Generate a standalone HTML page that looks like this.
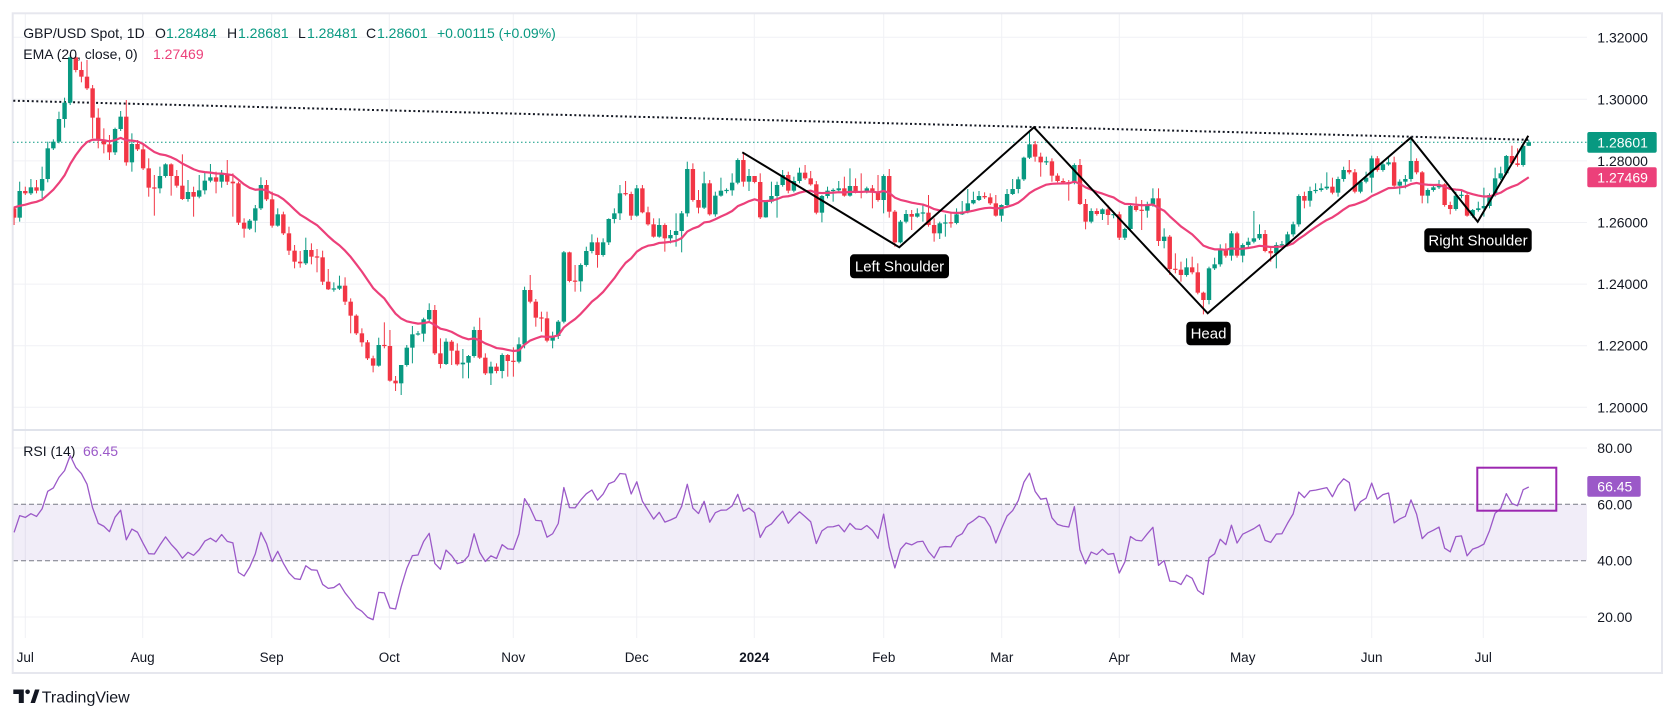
<!DOCTYPE html>
<html><head><meta charset="utf-8">
<style>
html,body{margin:0;padding:0;background:#fff;}
body{width:1675px;height:718px;overflow:hidden;position:relative;font-family:"Liberation Sans",Arial,sans-serif;}
svg{position:absolute;left:0;top:0;}
text{font-family:"Liberation Sans",Arial,sans-serif;}
</style></head><body>
<svg id="chart" width="1675" height="718" xmlns="http://www.w3.org/2000/svg">
<defs>
<clipPath id="pc"><rect x="13.5" y="14" width="1573.5" height="415.5"/></clipPath>
<clipPath id="rc"><rect x="13.5" y="431" width="1573.5" height="207"/></clipPath>
</defs>
<rect x="0" y="0" width="1675" height="718" fill="#fff"/>
<!-- vertical grid -->
<g stroke="#F0F1F5" stroke-width="1">
<line x1="25.3" x2="25.3" y1="14" y2="638"/>
<line x1="142.7" x2="142.7" y1="14" y2="638"/>
<line x1="271.7" x2="271.7" y1="14" y2="638"/>
<line x1="389.3" x2="389.3" y1="14" y2="638"/>
<line x1="513.3" x2="513.3" y1="14" y2="638"/>
<line x1="636.7" x2="636.7" y1="14" y2="638"/>
<line x1="754.3" x2="754.3" y1="14" y2="638"/>
<line x1="883.7" x2="883.7" y1="14" y2="638"/>
<line x1="1001.7" x2="1001.7" y1="14" y2="638"/>
<line x1="1119.3" x2="1119.3" y1="14" y2="638"/>
<line x1="1242.7" x2="1242.7" y1="14" y2="638"/>
<line x1="1371.7" x2="1371.7" y1="14" y2="638"/>
<line x1="1483.3" x2="1483.3" y1="14" y2="638"/>
</g>
<!-- horizontal grid price -->
<g stroke="#F0F1F5" stroke-width="1">
<line x1="13" x2="1587" y1="37.3" y2="37.3"/>
<line x1="13" x2="1587" y1="99.3" y2="99.3"/>
<line x1="13" x2="1587" y1="160.9" y2="160.9"/>
<line x1="13" x2="1587" y1="222.5" y2="222.5"/>
<line x1="13" x2="1587" y1="284.1" y2="284.1"/>
<line x1="13" x2="1587" y1="345.7" y2="345.7"/>
<line x1="13" x2="1587" y1="407.3" y2="407.3"/>
<line x1="13" x2="1587" y1="448" y2="448"/>
<line x1="13" x2="1587" y1="617" y2="617"/>
</g>
<!-- RSI band -->
<rect x="13" y="504.3" width="1574" height="56.4" fill="#7E57C2" fill-opacity="0.11"/>
<line x1="13" x2="1587" y1="504.3" y2="504.3" stroke="#787B86" stroke-width="1" stroke-dasharray="5,3"/>
<line x1="13" x2="1587" y1="560.7" y2="560.7" stroke="#787B86" stroke-width="1" stroke-dasharray="5,3"/>
<!-- frame -->
<rect x="12.7" y="13.3" width="1649.3" height="659.7" fill="none" stroke="#E6E7EE" stroke-width="2"/>
<line x1="13" x2="1662" y1="430" y2="430" stroke="#E0E3EB" stroke-width="2"/>

<!-- last price dotted line -->
<line x1="13" x2="1587" y1="142.2" y2="142.2" stroke="#089981" stroke-width="1" stroke-dasharray="1.5,2.5"/>
<!-- black dotted trendline -->
<line x1="13.3" y1="100.7" x2="1530" y2="139.8" stroke="#131722" stroke-width="2" stroke-dasharray="2,2.6"/>

<g id="cand" clip-path="url(#pc)"></g>

<!-- header texts -->
<g font-size="14">
<text x="23.3" y="37.8" fill="#131722">GBP/USD Spot, 1D</text>
<text x="155" y="37.8" fill="#131722">O</text><text x="166" y="37.8" fill="#089981">1.28484</text>
<text x="227" y="37.8" fill="#131722">H</text><text x="238" y="37.8" fill="#089981">1.28681</text>
<text x="298" y="37.8" fill="#131722">L</text><text x="307" y="37.8" fill="#089981">1.28481</text>
<text x="366" y="37.8" fill="#131722">C</text><text x="377" y="37.8" fill="#089981">1.28601</text>
<text x="437" y="37.8" fill="#089981">+0.00115 (+0.09%)</text>
<text x="23.3" y="59" fill="#131722">EMA (20, close, 0)</text>
<text x="153" y="59" fill="#EC407A">1.27469</text>
<text x="23.3" y="456" fill="#131722">RSI (14)</text>
<text x="83" y="456" fill="#9B59C8">66.45</text>
</g>

<!-- pattern zigzag -->
<polyline points="742.3,152.3 899.3,247.3 1034,127.3 1207.7,313.3 1410.7,137.7 1477.7,221.7 1528.3,135.7" fill="none" stroke="#000" stroke-width="2" stroke-linejoin="miter"/>

<!-- labels -->
<rect x="850" y="254.3" width="99" height="24" rx="4" fill="#000"/>
<text x="899.5" y="271.3" font-size="15" fill="#fff" text-anchor="middle">Left Shoulder</text>
<rect x="1186.3" y="321.7" width="44.4" height="23.6" rx="4" fill="#000"/>
<text x="1208.5" y="338.6" font-size="15" fill="#fff" text-anchor="middle">Head</text>
<rect x="1424.3" y="228.3" width="107.4" height="24" rx="4" fill="#000"/>
<text x="1478" y="245.3" font-size="15" fill="#fff" text-anchor="middle">Right Shoulder</text>

<g id="rsi" clip-path="url(#rc)"></g>
<rect x="1477.3" y="467.7" width="79" height="43" fill="none" stroke="#9C27B0" stroke-width="2"/>

<!-- price axis -->
<g font-size="14" fill="#131722">
<text x="1597.3" y="42.3">1.32000</text>
<text x="1597.3" y="104.3">1.30000</text>
<text x="1597.3" y="165.9">1.28000</text>
<text x="1597.3" y="227.5">1.26000</text>
<text x="1597.3" y="289.1">1.24000</text>
<text x="1597.3" y="350.7">1.22000</text>
<text x="1597.3" y="412.3">1.20000</text>
<text x="1597.3" y="453">80.00</text>
<text x="1597.3" y="509.3">60.00</text>
<text x="1597.3" y="565.7">40.00</text>
<text x="1597.3" y="622">20.00</text>
</g>
<rect x="1587.3" y="132" width="69.4" height="20.7" rx="2" fill="#089981"/>
<text x="1597.3" y="147.3" font-size="14" fill="#fff">1.28601</text>
<rect x="1587.3" y="167.3" width="69.4" height="20" rx="2" fill="#EC407A"/>
<text x="1597.3" y="182.3" font-size="14" fill="#fff">1.27469</text>
<rect x="1587.3" y="476" width="53.4" height="20.7" rx="2" fill="#9B59C8"/>
<text x="1597.3" y="491.3" font-size="14" fill="#fff">66.45</text>

<!-- time axis -->
<g font-size="13.5" fill="#131722" text-anchor="middle">
<text x="25.3" y="662">Jul</text>
<text x="142.7" y="662">Aug</text>
<text x="271.7" y="662">Sep</text>
<text x="389.3" y="662">Oct</text>
<text x="513.3" y="662">Nov</text>
<text x="636.7" y="662">Dec</text>
<text x="754.3" y="662" font-weight="bold">2024</text>
<text x="883.7" y="662">Feb</text>
<text x="1001.7" y="662">Mar</text>
<text x="1119.3" y="662">Apr</text>
<text x="1242.7" y="662">May</text>
<text x="1371.7" y="662">Jun</text>
<text x="1483.3" y="662">Jul</text>
</g>

<!-- TradingView logo -->
<g fill="#131722">
<path d="M13.3,689.5 H23.8 V703 H18.8 V694 H13.3 Z"/>
<circle cx="27.6" cy="691.8" r="2.3"/>
<path d="M30.5,703 L35,689.5 H39.5 L35,703 Z"/>
</g>
<text x="41.7" y="702.3" font-size="16" fill="#131722">TradingView</text>
</svg>
<script>
(function(){
var D=[[518,485,540],[438,410,530],[445,425,450],[427,402,450],[437,405,445],[402,365,460],[310,290,412],[290,283,315],[222,200,295],[173,158,248],[37,30,180],[75,33,82],[95,50,112],[130,45,135],[218,120,280],[285,190,310],[298,250,325],[322,270,345],[252,248,330],[215,198,258],[352,165,362],[297,265,380],[313,285,318],[370,300,375],[428,340,455],[430,390,512],[393,365,445],[358,355,398],[393,355,452],[422,375,428],[462,328,465],[441,405,470],[455,425,515],[436,390,460],[407,380,448],[397,357,412],[410,380,445],[387,375,428],[410,345,420],[415,385,515],[533,410,540],[551,520,578],[527,522,555],[490,480,562],[420,397,495],[463,405,468],[542,440,548],[508,490,545],[565,500,570],[617,545,630],[650,600,670],[655,618,668],[615,578,660],[635,595,658],[637,612,682],[710,617,720],[733,672,735],[731,712,740],[722,692,735],[770,697,780],[812,760,865],[865,808,870],[892,850,905],[940,885,945],[962,932,982],[900,878,965],[903,832,910],[1007,855,1010],[1015,993,1038],[960,960,1050],[908,900,965],[868,843,955],[866,858,872],[823,818,890],[795,775,830],[925,780,930],[957,880,970],[890,880,960],[917,885,960],[958,895,962],[953,912,1000],[933,930,1000],[855,845,938],[938,818,942],[985,925,990],[965,950,1020],[978,955,985],[930,925,1000],[948,927,995],[950,907,995],[898,877,955],[735,725,910],[770,690,775],[818,762,845],[820,800,860],[887,800,892],[873,860,910],[830,825,882],[622,618,835],[708,620,712],[709,660,740],[660,655,740],[618,605,665],[592,568,625],[630,578,668],[592,580,635],[522,520,600],[505,490,535],[445,420,525],[447,408,452],[512,440,525],[430,420,515],[502,420,505],[538,485,542],[575,520,578],[540,520,578],[580,535,620],[570,555,595],[558,505,605],[505,498,622],[372,350,515],[465,355,470],[488,435,505],[415,380,492],[508,405,512],[452,440,515],[437,398,455],[436,430,445],[413,385,452],[345,340,418],[410,322,425],[393,372,438],[411,405,415],[517,385,522],[470,465,518],[453,410,475],[420,410,518],[390,375,425],[437,380,445],[408,395,442],[383,368,415],[400,360,405],[418,378,422],[503,408,508],[453,450,532],[437,425,460],[436,430,470],[430,408,442],[452,395,455],[423,370,455],[440,400,445],[442,385,460],[430,425,445],[443,420,490],[465,390,470],[393,388,505],[500,372,518],[592,495,605],[530,525,595],[507,495,535],[515,495,555],[505,490,518],[503,480,530],[540,450,545],[565,520,590],[535,530,582],[533,508,575],[534,500,548],[508,490,538],[500,468,510],[475,432,505],[465,440,478],[453,438,468],[457,442,462],[475,445,480],[512,450,515],[480,478,530],[447,432,485],[432,402,450],[403,395,445],[338,335,408],[298,262,342],[335,288,350],[352,323,395],[349,335,360],[392,340,410],[408,385,412],[412,400,418],[414,405,467],[360,355,418],[477,342,480],[530,462,553],[498,490,535],[507,490,512],[493,490,525],[510,480,540],[508,500,520],[578,500,585],[552,548,585],[483,480,560],[495,455,500],[497,465,555],[478,470,518],[460,430,485],[588,430,603],[575,550,610],[672,570,690],[674,625,685],[690,650,710],[667,640,695],[682,635,688],[743,655,748],[765,740,808],[670,665,778],[658,638,675],[612,598,665],[632,595,638],[565,558,647],[632,560,638],[600,595,652],[590,578,606],[580,498,595],[567,538,585],[618,555,622],[625,605,650],[600,592,670],[599,588,608],[568,560,605],[538,530,575],[453,448,545],[467,440,490],[438,425,485],[435,415,445],[430,415,440],[425,382,435],[443,398,448],[402,395,455],[375,365,410],[382,345,388],[440,372,445],[410,405,445],[398,380,415],[340,332,443],[375,333,380],[358,353,380],[352,335,362],[422,335,428],[410,403,448],[402,390,430],[348,278,410],[382,340,388],[452,378,475],[435,430,475],[427,418,440],[418,405,432],[480,415,485],[492,470,508],[452,440,497],[450,438,460],[512,445,515],[495,492,518],[490,470,500],[483,428,515],[450,445,490],[400,368,455],[385,365,405],[333,330,390],[355,302,360],[360,310,365],[302.5,298,365],[291.7,284.3,302.7]];
function Y(z){return 45+z/3;}
var s='',prv=490,ema=484,G=24.6,L=22.4,ep=[],rp=[];
for(var k=0;k<D.length;k++){
  var i=k-2,x=25.3+5.61*i,c=D[k][0],h=D[k][1],l=D[k][2],o=prv;
  var up=c<=o;
  var col=up?'#089981':'#F23645';
  var tp=Math.min(o,c),bt=Math.max(o,c);
  h=Math.min(h,tp);l=Math.max(l,bt);
  var yt=Y(tp),yb=Y(bt);
  if(yb-yt<1.2){var m=(yt+yb)/2;yt=m-0.6;yb=m+0.6;}
  s+='<line x1="'+x.toFixed(2)+'" x2="'+x.toFixed(2)+'" y1="'+Y(h).toFixed(2)+'" y2="'+Y(l).toFixed(2)+'" stroke="'+col+'" stroke-width="1"/>';
  s+='<rect x="'+(x-2.2).toFixed(2)+'" y="'+yt.toFixed(2)+'" width="4.4" height="'+(yb-yt).toFixed(2)+'" fill="'+col+'"/>';
  ema+=(c-ema)*2/21;
  ep.push(x.toFixed(2)+','+Y(ema).toFixed(2));
  var d=o-c,gain=d>0?d:0,loss=d<0?-d:0;
  G=(G*13+gain)/14;L=(L*13+loss)/14;
  var r=L==0?100:100-100/(1+G/L);
  rp.push(x.toFixed(2)+','+(448+(80-r)*2.817).toFixed(2));
  prv=c;
}
s+='<polyline points="'+ep.join(' ')+'" fill="none" stroke="#EC407A" stroke-width="2.2" stroke-linejoin="round"/>';
document.getElementById('cand').innerHTML=s;
document.getElementById('rsi').innerHTML='<polyline points="'+rp.join(' ')+'" fill="none" stroke="#9B59C8" stroke-width="1.3" stroke-linejoin="round"/>';
})();
</script>
</body></html>
